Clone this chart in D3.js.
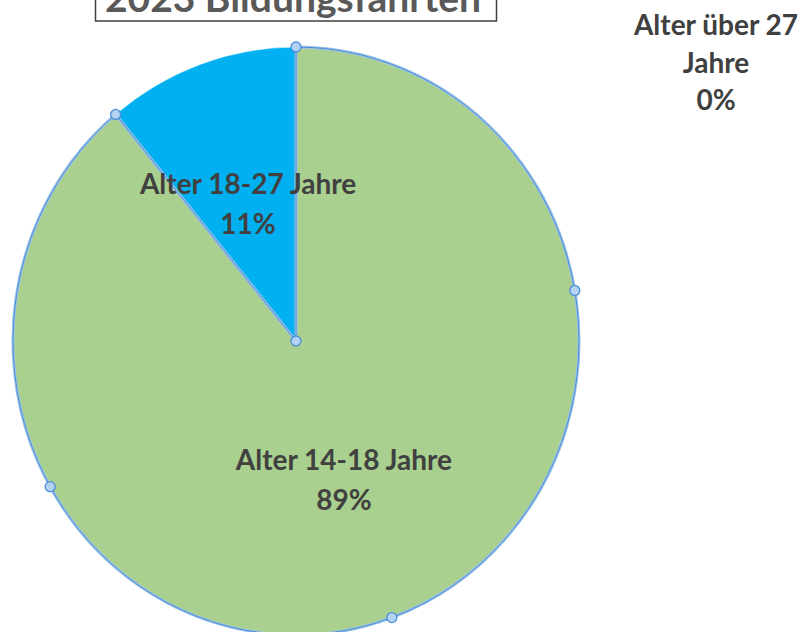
<!DOCTYPE html>
<html>
<head>
<meta charset="utf-8">
<script src="https://cdn.jsdelivr.net/npm/d3@7"></script>
<style>
  body { margin: 0; background: #fff; }
  svg { display: block; font-family: Lato, "Open Sans", sans-serif; }
</style>
</head>
<body>
<svg id="chart"></svg>
<script>
// chart data
var title = "2023 Bildungsfahrten";
var categories = ["Alter 14-18 Jahre", "Alter 18-27 Jahre", "Alter über 27 Jahre"];
var values = [89, 11, 0];
var colors = ["#A9D08E", "#00B0F0", "#FFC000"];

var width = 809, height = 632;
var cx = 296, cy = 341;
var rx = 283, ry = 294;

var svg = d3.select("#chart")
    .attr("width", width)
    .attr("height", height);

// title box (cut at top like the screenshot)
var tg = svg.append("g");
tg.append("rect")
    .attr("x", 95.5).attr("y", -40)
    .attr("width", 401).attr("height", 61)
    .attr("fill", "#fff")
    .attr("stroke", "#404040")
    .attr("stroke-width", 1.5);
tg.append("text")
    .attr("x", 293).attr("y", 12)
    .attr("text-anchor", "middle")
    .attr("font-size", 39)
    .attr("font-weight", "bold")
    .attr("fill", "#595959")
    .text(title);

var pie = d3.pie().sort(null).value(d => d);
var arcs = pie(values);

var arc = d3.arc().innerRadius(0).outerRadius(ry);

// pie is slightly elliptical in the reference
var pg = svg.append("g")
    .attr("transform", "translate(" + cx + "," + cy + ") scale(" + (rx / ry) + ",1)");

pg.selectAll("path")
    .data(arcs)
    .enter().append("path")
    .attr("d", arc)
    .attr("fill", (d, i) => colors[i])
    .attr("stroke", "#fff")
    .attr("stroke-width", 0.5)
    .attr("vector-effect", "non-scaling-stroke");

// selected slice outline
var sel = arcs[0];
pg.append("path")
    .attr("d", arc(sel))
    .attr("fill", "none")
    .attr("stroke", "#9DC3E6")
    .attr("stroke-width", 3)
    .attr("vector-effect", "non-scaling-stroke");
pg.append("path")
    .attr("d", arc(sel))
    .attr("fill", "none")
    .attr("stroke", "#4A8FD9")
    .attr("stroke-width", 1)
    .attr("vector-effect", "non-scaling-stroke");

// selection handles
function onEllipse(a) {
    return [cx + rx * Math.sin(a), cy - ry * Math.cos(a)];
}
var handles = [[cx, cy]];
[0, 0.25, 0.5, 0.75, 1].forEach(f => {
    handles.push(onEllipse(sel.startAngle + f * (sel.endAngle - sel.startAngle)));
});
svg.selectAll("circle.handle")
    .data(handles)
    .enter().append("circle")
    .attr("class", "handle")
    .attr("cx", d => d[0])
    .attr("cy", d => d[1])
    .attr("r", 5)
    .attr("fill", "#B4D3F2")
    .attr("stroke", "#4A8FD9")
    .attr("stroke-width", 1.3);

// labels
var lineH = 40;
var labelPos = arcs.map(d => {
    if (d.value === 0) return [716, 35];
    var c = arc.centroid(d);
    return [cx + c[0] * rx / ry, cy + c[1] - lineH / 2 + 11];
});
var labelLines = arcs.map((d, i) => {
    var pct = Math.round(d.value / d3.sum(values) * 100) + "%";
    if (d.value === 0) return ["Alter über 27", "Jahre", pct];
    return [categories[i], pct];
});

var lg = svg.append("g")
    .attr("font-size", 28)
    .attr("font-weight", "bold")
    .attr("fill", "#404040")
    .attr("text-anchor", "middle");

labelLines.forEach((lines, i) => {
    var t = lg.append("text")
        .attr("x", labelPos[i][0])
        .attr("y", labelPos[i][1]);
    lines.forEach((l, j) => {
        t.append("tspan")
            .attr("x", labelPos[i][0])
            .attr("dy", j == 0 ? 0 : (d3.min([lineH, i == 2 ? 37.5 : lineH])))
            .text(l);
    });
});
</script>
</body>
</html>
